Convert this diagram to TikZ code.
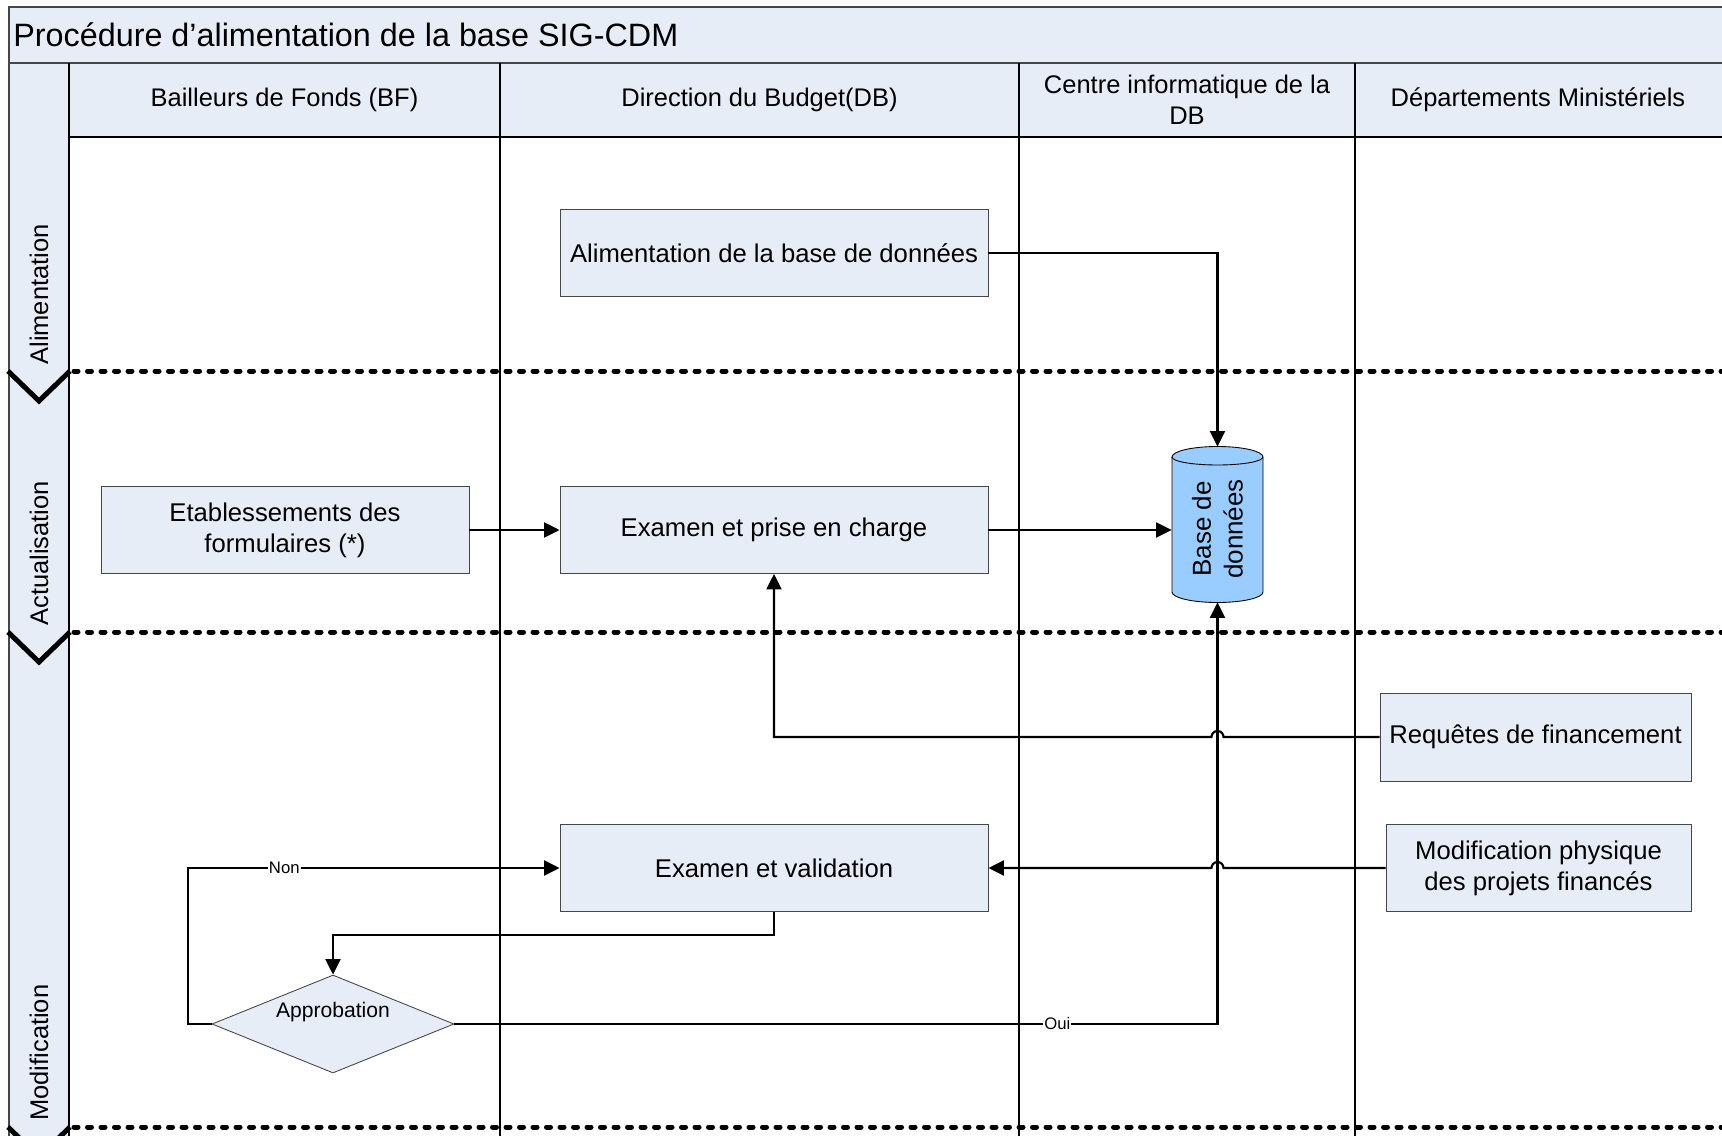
\documentclass[tikz,border=0pt]{standalone}
\usepackage{fontspec}
\setmainfont{Liberation Sans}
\usetikzlibrary{arrows.meta,shapes.geometric}
\definecolor{lanefill}{RGB}{231,237,247}
\definecolor{dbblue}{RGB}{153,204,255}
\definecolor{boxline}{RGB}{70,70,70}
\tikzset{
  task/.style={draw=boxline,fill=lanefill,line width=0.5pt,align=center,
    minimum width=85.6mm,minimum height=17.4mm,inner sep=1pt,
    font=\fontsize{14.6}{17.5}\selectfont},
  head/.style={align=center,inner sep=0pt,font=\fontsize{14.5}{17.5}\selectfont},
  phase/.style={rotate=90,anchor=west,inner sep=0pt,font=\fontsize{14.5}{17.5}\selectfont},
  flow/.style={line width=1.2pt,-{Triangle[length=3.1mm,width=3mm]}},
  lbl/.style={fill=white,inner sep=0.6pt,font=\fontsize{9.5}{11}\selectfont},
  lanesep/.style={line width=1mm,line cap=round,dash pattern=on 0.8mm off 1.9mm},
  chevron/.style={line width=1mm},
  lane/.style={line width=0.6pt}
}
\begin{document}
\begin{tikzpicture}[x=0.2mm,y=-0.2mm]
  \useasboundingbox (0,0) rectangle (1722,1136);
  \clip (0,0) rectangle (1722,1136);
  % pool frame
  \fill[lanefill] (9,7) rectangle (1730,137);
  \fill[lanefill] (9,63) rectangle (69,1145);
  \draw[lane,line width=0.9pt,draw=boxline] (1730,7) -- (9,7) -- (9,1145);
  \draw[lane,line width=0.9pt,draw=boxline] (9,63) -- (1730,63);
  \draw[lane] (69,137) -- (1730,137);
  \foreach \x in {69,500,1019,1355}
    \draw[lane] (\x,63) -- (\x,1145);
  \node[anchor=west,inner sep=0pt,font=\fontsize{18.4}{22}\selectfont] (title) at (13,35)
    {Procédure d’alimentation de la base SIG-CDM};
  \node[head] (bf) at (284.5,100) {Bailleurs de Fonds (BF)};
  \node[head] (dbud) at (759.5,100) {Direction du Budget(DB)};
  \node[head] (cidb) at (1187,100) {Centre informatique de la\\DB};
  \node[head] (dm) at (1538,100) {Départements Ministériels};
  % phases
  \foreach \y in {371,632,1127} {
    \draw[lanesep] (74,\y) -- (1730,\y);
    \draw[chevron] (8,\y) -- (39,\y+30) -- (70,\y);
  }
  \node[phase] (palim) at (39,365) {Alimentation};
  \node[phase] (pact) at (39,626) {Actualisation};
  \node[phase] (pmod) at (39,1121) {Modification};
  % tasks
  \node[task] (alim) at (774,253) {Alimentation de la base de données};
  \node[task,minimum width=73.6mm] (etab) at (285,530) {Etablessements des\\formulaires (*)};
  \node[task] (prise) at (774,530) {Examen et prise en charge};
  \node[task,minimum width=62.2mm,minimum height=17.6mm] (req) at (1535.5,737) {Requêtes de financement};
  \node[task,minimum width=61mm] (modif) at (1538.5,868) {Modification physique\\des projets financés};
  \node[task] (valid) at (774,868) {Examen et validation};
  \node[diamond,draw=boxline,fill=lanefill,line width=0.5pt,aspect=2.5,
    minimum width=48.4mm,minimum height=19.6mm,inner sep=0pt] (appr) at (333,1024) {};
  \node[font=\fontsize{12}{14}\selectfont,inner sep=0pt] (apprtxt) at ([yshift=2.4mm]appr.center) {Approbation};
  % database
  \node[minimum width=18.2mm,minimum height=31mm,inner sep=0pt] (db) at (1217.5,524.5) {};
  \filldraw[fill=dbblue,draw=black,line width=0.5pt] (1172,457) -- (1172,592)
    arc[start angle=180,end angle=360,x radius=9.1mm,y radius=2.1mm] -- (1263,457)
    arc[start angle=0,end angle=180,x radius=9.1mm,y radius=2.1mm] -- cycle;
  \draw[line width=0.5pt] (1172,457) arc[start angle=180,end angle=360,x radius=9.1mm,y radius=1.6mm];
  \node[rotate=90,align=center,inner sep=0pt,font=\fontsize{14.8}{18}\selectfont] (dbtxt) at (1217.5,529) {Base de\\données};
  % connectors
  \coordinate (hopa) at (db.south |- req.west);
  \coordinate (hopb) at (db.south |- modif.west);
  \draw[flow] (alim.east) -| (db.north);
  \draw[flow] (etab) -- (prise);
  \draw[flow] (prise.east) -- (prise.east -| db.west);
  \draw[flow] (req.west) -- ([xshift=1.2mm]hopa) arc[start angle=0,end angle=180,radius=1.2mm]
    -- (prise.south |- req.west) -- (prise.south);
  \draw[flow] (modif.west) -- ([xshift=1.2mm]hopb) arc[start angle=0,end angle=180,radius=1.2mm]
    -- (valid.east);
  \draw[flow] (valid.south) -- ++(0,23) -| (appr.north);
  \draw[flow] (appr.west) -- ++(-24,0) |- node[lbl,pos=0.63]{Non} (valid.west);
  \draw[flow] (appr.east) -- node[lbl,pos=0.79]{Oui} (appr.east -| db.south) -- (db.south);
\end{tikzpicture}
\end{document}
